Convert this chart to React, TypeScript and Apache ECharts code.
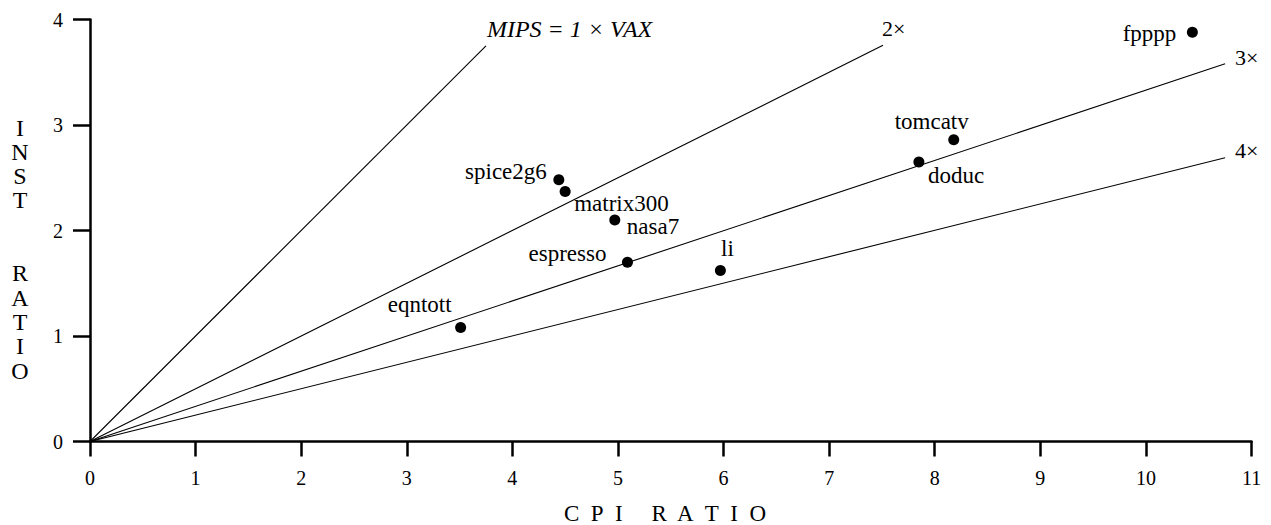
import React, { useEffect, useRef } from "react";
import * as echarts from "echarts";

// ---- data ----
const benchmarks = ["spice2g6", "matrix300", "nasa7", "espresso", "li", "eqntott", "doduc", "tomcatv", "fpppp"];
const cpiRatio = [4.44, 4.5, 4.97, 5.09, 5.97, 3.51, 7.85, 8.18, 10.44];
const instRatio = [2.48, 2.37, 2.1, 1.7, 1.62, 1.08, 2.65, 2.86, 3.88];

const ratioLineNames = ["MIPS = 1 × VAX", "2×", "3×", "4×"];
const ratioLineEndCpi = [3.75, 7.51, 10.75, 10.75];
const ratioLineEndInst = [3.75, 3.755, 3.58, 2.69];

const xTicks = [0, 1, 2, 3, 4, 5, 6, 7, 8, 9, 10, 11];
const yTicks = [0, 1, 2, 3, 4];

// ---- label placement (style only) ----
const pointLabelPlacement: Record<string, { align: string; dx: number; dy: number }> = {
  spice2g6: { align: "right", dx: -12, dy: -8 },
  matrix300: { align: "left", dx: 9, dy: 12 },
  nasa7: { align: "left", dx: 12, dy: 7 },
  espresso: { align: "right", dx: -21, dy: -9 },
  li: { align: "center", dx: 7, dy: -22 },
  eqntott: { align: "right", dx: -9, dy: -23 },
  doduc: { align: "left", dx: 9, dy: 14 },
  tomcatv: { align: "right", dx: 15, dy: -18 },
  fpppp: { align: "right", dx: -16, dy: 1 },
};
const lineLabelPlacement = [
  { dx: 1, dy: -17, size: 24, italic: true },
  { dx: -1, dy: -17, size: 22, italic: false },
  { dx: 10, dy: -6, size: 22, italic: false },
  { dx: 10, dy: -7, size: 22, italic: false },
];

const FONT = "'Liberation Serif', 'Times New Roman', serif";
const NB = "\u00a0";

export default function App() {
  const ref = useRef<HTMLDivElement>(null);
  useEffect(() => {
    if (!ref.current) return;
    const chart = echarts.init(ref.current, null, { renderer: "svg" });

    const lineSeries = ratioLineNames.map((name, i) => ({
      type: "line",
      name,
      showSymbol: true,
      symbol: "circle",
      symbolSize: 1,
      itemStyle: { color: "transparent" },
      lineStyle: { color: "#000", width: 1.1 },
      silent: true,
      z: 2,
      label: { show: false },
      data: [
        [0, 0],
        {
          value: [ratioLineEndCpi[i], ratioLineEndInst[i]],
          label: {
            show: true,
            position: "inside",
            align: "left",
            verticalAlign: "middle",
            offset: [lineLabelPlacement[i].dx, lineLabelPlacement[i].dy],
            formatter: name,
            color: "#000",
            fontFamily: FONT,
            fontSize: lineLabelPlacement[i].size,
            fontStyle: lineLabelPlacement[i].italic ? "italic" : "normal",
          },
        },
      ],
    }));

    const scatterData = benchmarks.map((b, i) => {
      const p = pointLabelPlacement[b];
      return {
        name: b,
        value: [cpiRatio[i], instRatio[i]],
        label: {
          show: true,
          position: "inside",
          align: p.align,
          verticalAlign: "middle",
          offset: [p.dx, p.dy],
          formatter: b,
          color: "#000",
          fontFamily: FONT,
          fontSize: 23,
        },
      };
    });

    const option = {
      animation: false,
      backgroundColor: "#fff",
      textStyle: { fontFamily: FONT, color: "#000" },
      grid: { left: 90, right: 19.5, top: 19.5, bottom: 83.5, containLabel: false },
      xAxis: {
        type: "value",
        min: xTicks[0],
        max: xTicks[xTicks.length - 1],
        interval: 1,
        splitLine: { show: false },
        axisLine: { show: true, lineStyle: { color: "#000", width: 2.5 } },
        axisTick: { show: true, length: 15, lineStyle: { color: "#000", width: 2.5 } },
        axisLabel: { color: "#000", fontFamily: FONT, fontSize: 20, margin: 26 },
      },
      yAxis: {
        type: "value",
        min: yTicks[0],
        max: yTicks[yTicks.length - 1],
        interval: 1,
        splitLine: { show: false },
        axisLine: { show: true, lineStyle: { color: "#000", width: 2.5 } },
        axisTick: { show: true, length: 17, lineStyle: { color: "#000", width: 2.5 } },
        axisLabel: { color: "#000", fontFamily: FONT, fontSize: 20, margin: 27 },
      },
      graphic: [
        {
          type: "text",
          x: 20,
          y: 249,
          style: {
            text: "I\nN\nS\nT\n\n\nR\nA\nT\nI\nO",
            fontFamily: FONT,
            fontSize: 24,
            lineHeight: 24.3,
            align: "center",
            verticalAlign: "middle",
            fill: "#000",
          },
        },
        {
          type: "text",
          x: 665,
          y: 513,
          style: {
            text: ["C", "P", "I" + NB + " " + NB, "R", "A", "T", "I", "O"].join(NB + " "),
            fontFamily: FONT,
            fontSize: 23,
            align: "center",
            verticalAlign: "middle",
            fill: "#000",
          },
        },
      ],
      series: [
        ...lineSeries,
        {
          type: "scatter",
          name: "benchmarks",
          symbol: "circle",
          symbolSize: 11,
          itemStyle: { color: "#000", opacity: 1 },
          z: 3,
          data: scatterData,
        },
      ],
    };
    chart.setOption(option as any);
    return () => chart.dispose();
  }, []);

  return (
    <div
      ref={ref}
      style={{ position: "absolute", left: 0, top: 0, width: 1271, height: 525, background: "#fff" }}
    />
  );
}
